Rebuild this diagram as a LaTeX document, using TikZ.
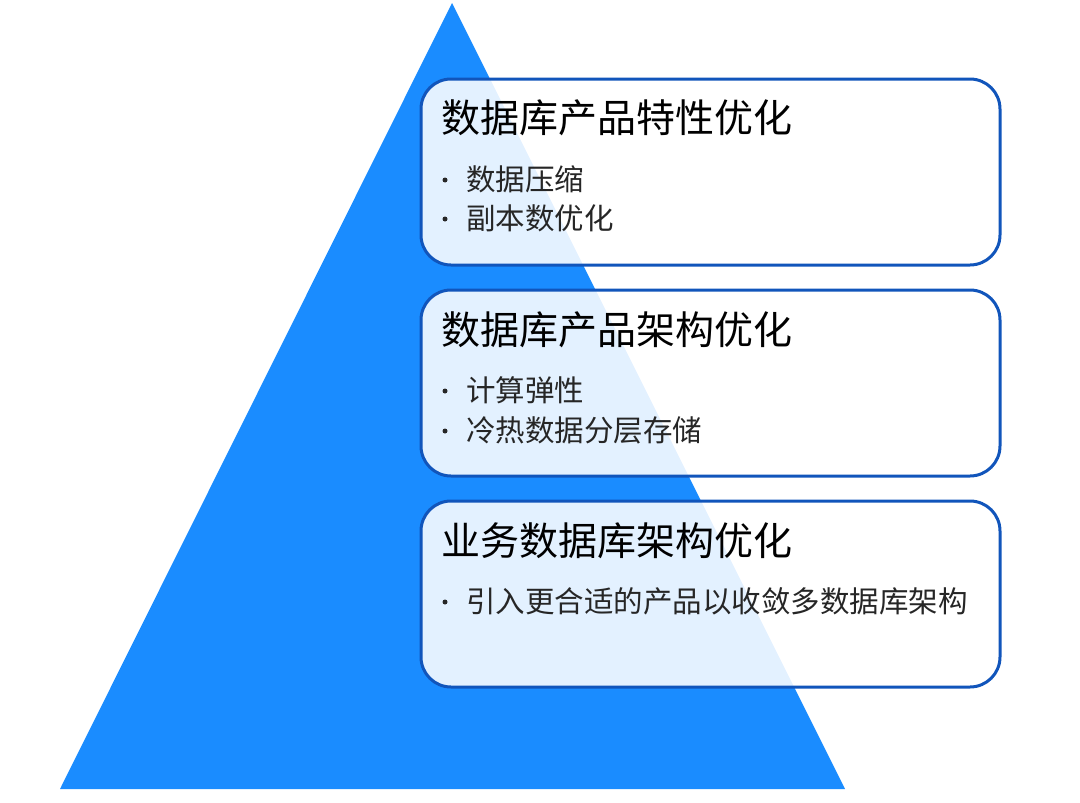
\documentclass[tikz,border=0pt]{standalone}
\usepackage{fontspec}
\newfontfamily\cjk{Noto Sans CJK SC}
\definecolor{tri}{HTML}{1A8CFF}
\definecolor{bord}{HTML}{1155BB}
\begin{document}
\begin{tikzpicture}[x=1pt,y=-1pt,
  card/.style={draw=bord,line width=3pt,rounded corners=30pt,fill=white,fill opacity=0.88},
  ttl/.style={anchor=west,font=\cjk\fontsize{39}{42}\selectfont,text=black,inner sep=0pt},
  itm/.style={anchor=west,font=\cjk\fontsize{29.5}{32}\selectfont,text=black!85,inner sep=0pt},
  dot/.style={circle,fill=black!85,inner sep=0pt,minimum size=5pt}]
\useasboundingbox (0,0) rectangle (1080,803);
\fill[tri] (452,3) -- (845,789) -- (60,789) -- cycle;
\draw[card] (421,79) rectangle (1000,265);
\draw[card] (421,290) rectangle (1000,476);
\draw[card] (421,501) rectangle (1000,687);
\node[ttl] (t1) at (441,118) {数据库产品特性优化};
\node[dot] (d1) at (445,180) {};
\node[itm] (a1) at (466,179) {数据压缩};
\node[dot] (d2) at (445,219) {};
\node[itm] (a2) at (466,218) {副本数优化};
\node[ttl] (t2) at (441,330) {数据库产品架构优化};
\node[dot] (d3) at (445,391) {};
\node[itm] (b1) at (466,390) {计算弹性};
\node[dot] (d4) at (445,431) {};
\node[itm] (b2) at (466,430) {冷热数据分层存储};
\node[ttl] (t3) at (441,541) {业务数据库架构优化};
\node[dot] (d5) at (445,602) {};
\node[itm] (c1) at (466,601) {引入更合适的产品以收敛多数据库架构};
\end{tikzpicture}
\end{document}
